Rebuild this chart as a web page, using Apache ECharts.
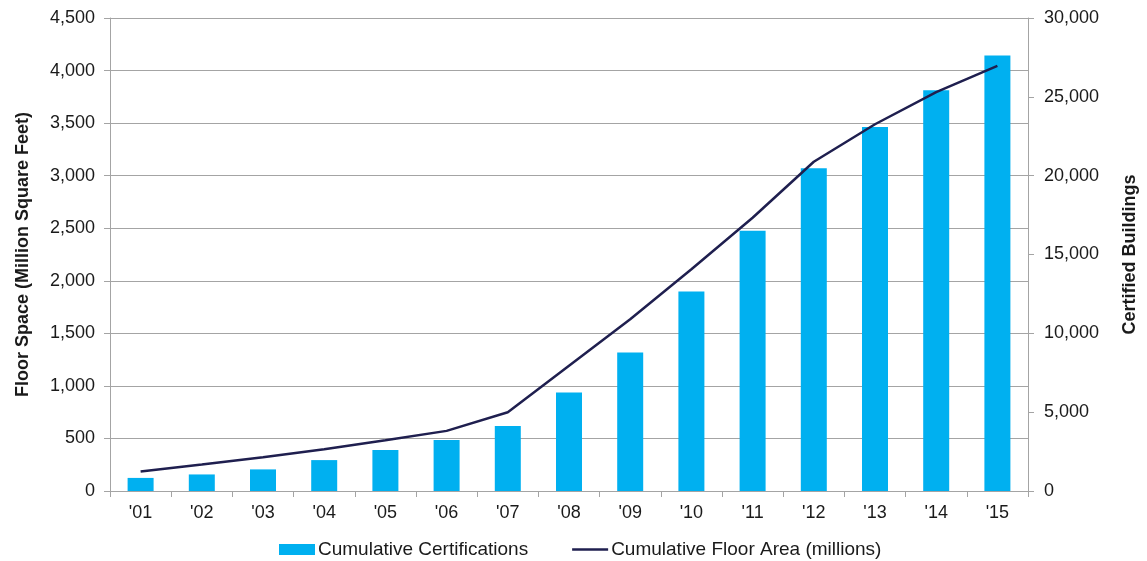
<!DOCTYPE html>
<html>
<head>
<meta charset="utf-8">
<script src="https://cdn.jsdelivr.net/npm/echarts@6/dist/echarts.min.js"></script>
<style>
html,body{margin:0;padding:0;background:#fff;overflow:hidden;}
#chart{width:1147px;height:561px;}
</style>
</head>
<body>
<div id="chart"></div>
<script>
const categories = ["'01","'02","'03","'04","'05","'06","'07","'08","'09","'10","'11","'12","'13","'14","'15"];
const certifications = [830, 1050, 1370, 1960, 2600, 3240, 4130, 6240, 8780, 12660, 16500, 20470, 23080, 25420, 27620];
const floorArea = [185, 252, 322, 397, 482, 572, 749, 1191, 1634, 2110, 2600, 3132, 3489, 3795, 4045];
const leftTicks = {min: 0, max: 4500, interval: 500};
const rightTicks = {min: 0, max: 30000, interval: 5000};

const FONT = "'Liberation Sans', Arial, sans-serif";
const gray = '#A4A4A4';
const txt = '#1a1a1a';

const chart = echarts.init(document.getElementById('chart'));
chart.setOption({
  animation: false,
  textStyle: {fontFamily: FONT},
  grid: {left: 110, right: 112, top: 18, bottom: 70, containLabel: false},
  legend: {
    left: 279, top: 540, padding: 0,
    itemWidth: 36, itemHeight: 11, itemGap: 44,
    textStyle: {fontFamily: FONT, fontSize: 19, color: txt, padding: [0,0,0,-2]},
    data: [
      {name: 'Cumulative Certifications', icon: 'rect'},
      {name: 'Cumulative Floor Area (millions)', icon: 'path://M0,0 L36,0 L36,2.5 L0,2.5 Z'}
    ]
  },
  xAxis: {
    type: 'category',
    data: categories,
    axisLine: {lineStyle: {color: gray, width: 1}},
    axisTick: {show: true, length: 6, lineStyle: {color: gray}},
    axisLabel: {fontFamily: FONT, fontSize: 18, color: txt, margin: 13}
  },
  yAxis: [
    {
      type: 'value', position: 'left',
      min: leftTicks.min, max: leftTicks.max, interval: leftTicks.interval,
      name: 'Floor Space (Million Square Feet)',
      nameLocation: 'middle', nameRotate: 90, nameGap: 78,
      nameTextStyle: {fontFamily: FONT, fontSize: 18, fontWeight: 'bold', color: txt},
      axisLine: {show: true, lineStyle: {color: gray}},
      axisTick: {show: true, length: 6, lineStyle: {color: gray}},
      axisLabel: {fontFamily: FONT, fontSize: 18, color: txt, margin: 15,
        formatter: v => v.toLocaleString('en-US')},
      splitLine: {show: true, lineStyle: {color: gray, width: 1}}
    },
    {
      type: 'value', position: 'right',
      min: rightTicks.min, max: rightTicks.max, interval: rightTicks.interval,
      name: 'Certified Buildings',
      nameLocation: 'middle', nameRotate: 90, nameGap: 93,
      nameTextStyle: {fontFamily: FONT, fontSize: 18, fontWeight: 'bold', color: txt},
      axisLine: {show: true, lineStyle: {color: gray}},
      axisTick: {show: true, length: 6, lineStyle: {color: gray}},
      axisLabel: {fontFamily: FONT, fontSize: 18, color: txt, margin: 16,
        formatter: v => v.toLocaleString('en-US')},
      splitLine: {show: false}
    }
  ],
  series: [
    {
      name: 'Cumulative Certifications',
      type: 'bar',
      yAxisIndex: 1,
      data: certifications,
      barWidth: 26,
      itemStyle: {color: '#00B0F0'},
      z: 2
    },
    {
      name: 'Cumulative Floor Area (millions)',
      type: 'line',
      yAxisIndex: 0,
      data: floorArea,
      symbol: 'none',
      lineStyle: {color: '#1F1F4F', width: 2.5},
      itemStyle: {color: '#1F1F4F'},
      z: 3
    }
  ]
});
</script>
</body>
</html>
